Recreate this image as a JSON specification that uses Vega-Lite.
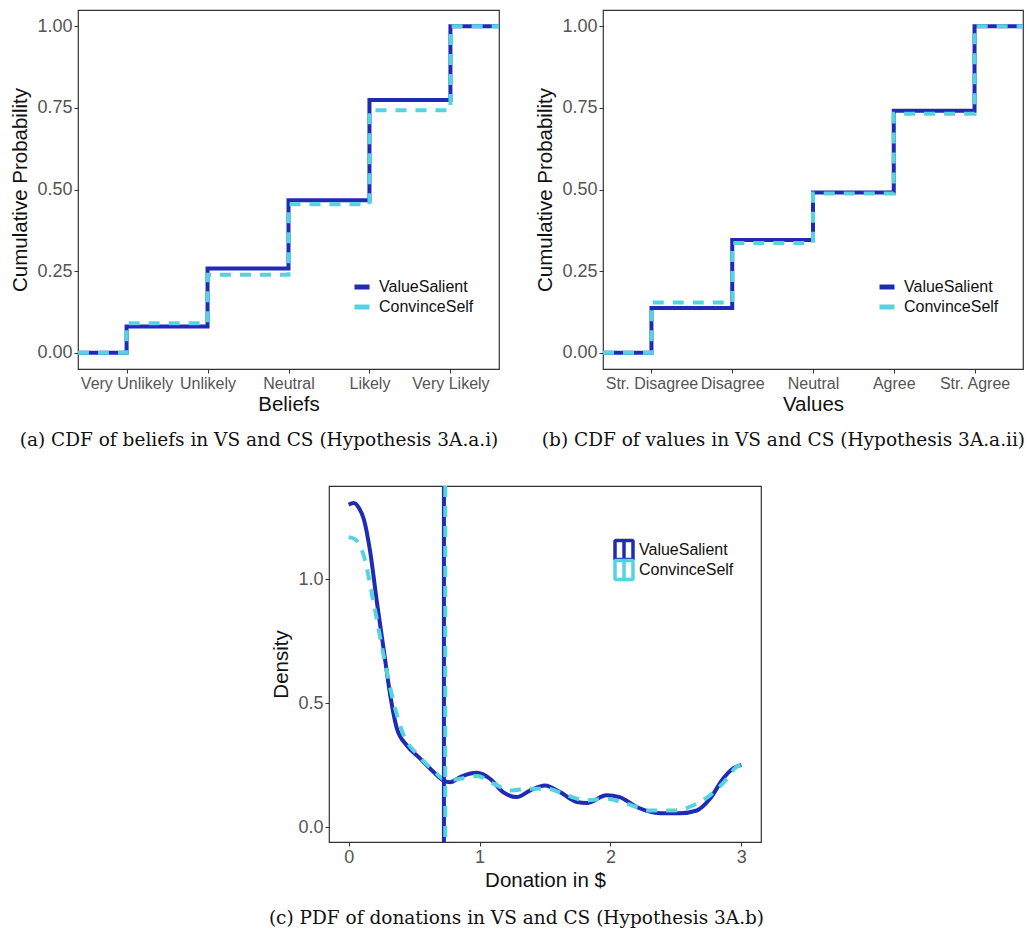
{
  "$schema": "https://vega.github.io/schema/vega-lite/v6.json",
  "background": "white",
  "padding": {"left": 10, "top": 9, "right": 0, "bottom": 0},
  "datasets": {
    "beliefs": [
      {"x": 0.4, "y": 0, "g": "ValueSalient"},
      {"x": 1, "y": 0.08, "g": "ValueSalient"},
      {"x": 2, "y": 0.258, "g": "ValueSalient"},
      {"x": 3, "y": 0.467, "g": "ValueSalient"},
      {"x": 4, "y": 0.774, "g": "ValueSalient"},
      {"x": 5, "y": 1, "g": "ValueSalient"},
      {"x": 5.6, "y": 1, "g": "ValueSalient"},
      {"x": 0.4, "y": 0, "g": "ConvinceSelf"},
      {"x": 1, "y": 0.09, "g": "ConvinceSelf"},
      {"x": 2, "y": 0.239, "g": "ConvinceSelf"},
      {"x": 3, "y": 0.455, "g": "ConvinceSelf"},
      {"x": 4, "y": 0.743, "g": "ConvinceSelf"},
      {"x": 5, "y": 1, "g": "ConvinceSelf"},
      {"x": 5.6, "y": 1, "g": "ConvinceSelf"}
    ],
    "values": [
      {"x": 0.4, "y": 0, "g": "ValueSalient"},
      {"x": 1, "y": 0.137, "g": "ValueSalient"},
      {"x": 2, "y": 0.345, "g": "ValueSalient"},
      {"x": 3, "y": 0.491, "g": "ValueSalient"},
      {"x": 4, "y": 0.741, "g": "ValueSalient"},
      {"x": 5, "y": 1, "g": "ValueSalient"},
      {"x": 5.6, "y": 1, "g": "ValueSalient"},
      {"x": 0.4, "y": 0, "g": "ConvinceSelf"},
      {"x": 1, "y": 0.154, "g": "ConvinceSelf"},
      {"x": 2, "y": 0.336, "g": "ConvinceSelf"},
      {"x": 3, "y": 0.488, "g": "ConvinceSelf"},
      {"x": 4, "y": 0.732, "g": "ConvinceSelf"},
      {"x": 5, "y": 1, "g": "ConvinceSelf"},
      {"x": 5.6, "y": 1, "g": "ConvinceSelf"}
    ],
    "dens": [
      {"x": 0.0, "y": 1.3, "g": "ValueSalient"},
      {"x": 0.04, "y": 1.306, "g": "ValueSalient"},
      {"x": 0.08, "y": 1.285, "g": "ValueSalient"},
      {"x": 0.115, "y": 1.243, "g": "ValueSalient"},
      {"x": 0.165, "y": 1.109, "g": "ValueSalient"},
      {"x": 0.216, "y": 0.907, "g": "ValueSalient"},
      {"x": 0.267, "y": 0.719, "g": "ValueSalient"},
      {"x": 0.318, "y": 0.531, "g": "ValueSalient"},
      {"x": 0.369, "y": 0.397, "g": "ValueSalient"},
      {"x": 0.445, "y": 0.329, "g": "ValueSalient"},
      {"x": 0.547, "y": 0.276, "g": "ValueSalient"},
      {"x": 0.649, "y": 0.222, "g": "ValueSalient"},
      {"x": 0.725, "y": 0.188, "g": "ValueSalient"},
      {"x": 0.776, "y": 0.181, "g": "ValueSalient"},
      {"x": 0.852, "y": 0.202, "g": "ValueSalient"},
      {"x": 0.98, "y": 0.219, "g": "ValueSalient"},
      {"x": 1.08, "y": 0.195, "g": "ValueSalient"},
      {"x": 1.18, "y": 0.141, "g": "ValueSalient"},
      {"x": 1.285, "y": 0.121, "g": "ValueSalient"},
      {"x": 1.387, "y": 0.148, "g": "ValueSalient"},
      {"x": 1.5, "y": 0.168, "g": "ValueSalient"},
      {"x": 1.616, "y": 0.141, "g": "ValueSalient"},
      {"x": 1.743, "y": 0.101, "g": "ValueSalient"},
      {"x": 1.82, "y": 0.097, "g": "ValueSalient"},
      {"x": 1.97, "y": 0.128, "g": "ValueSalient"},
      {"x": 2.07, "y": 0.121, "g": "ValueSalient"},
      {"x": 2.2, "y": 0.081, "g": "ValueSalient"},
      {"x": 2.38, "y": 0.056, "g": "ValueSalient"},
      {"x": 2.53, "y": 0.056, "g": "ValueSalient"},
      {"x": 2.66, "y": 0.067, "g": "ValueSalient"},
      {"x": 2.76, "y": 0.114, "g": "ValueSalient"},
      {"x": 2.86, "y": 0.195, "g": "ValueSalient"},
      {"x": 2.94, "y": 0.238, "g": "ValueSalient"},
      {"x": 3.0, "y": 0.251, "g": "ValueSalient"},
      {"x": 0.0, "y": 1.169, "g": "ConvinceSelf"},
      {"x": 0.05, "y": 1.16, "g": "ConvinceSelf"},
      {"x": 0.115, "y": 1.095, "g": "ConvinceSelf"},
      {"x": 0.19, "y": 0.907, "g": "ConvinceSelf"},
      {"x": 0.267, "y": 0.692, "g": "ConvinceSelf"},
      {"x": 0.343, "y": 0.504, "g": "ConvinceSelf"},
      {"x": 0.42, "y": 0.37, "g": "ConvinceSelf"},
      {"x": 0.52, "y": 0.296, "g": "ConvinceSelf"},
      {"x": 0.649, "y": 0.228, "g": "ConvinceSelf"},
      {"x": 0.75, "y": 0.188, "g": "ConvinceSelf"},
      {"x": 0.852, "y": 0.195, "g": "ConvinceSelf"},
      {"x": 0.98, "y": 0.206, "g": "ConvinceSelf"},
      {"x": 1.107, "y": 0.175, "g": "ConvinceSelf"},
      {"x": 1.234, "y": 0.148, "g": "ConvinceSelf"},
      {"x": 1.387, "y": 0.155, "g": "ConvinceSelf"},
      {"x": 1.514, "y": 0.155, "g": "ConvinceSelf"},
      {"x": 1.667, "y": 0.128, "g": "ConvinceSelf"},
      {"x": 1.82, "y": 0.108, "g": "ConvinceSelf"},
      {"x": 1.97, "y": 0.114, "g": "ConvinceSelf"},
      {"x": 2.125, "y": 0.094, "g": "ConvinceSelf"},
      {"x": 2.3, "y": 0.067, "g": "ConvinceSelf"},
      {"x": 2.48, "y": 0.067, "g": "ConvinceSelf"},
      {"x": 2.63, "y": 0.087, "g": "ConvinceSelf"},
      {"x": 2.76, "y": 0.128, "g": "ConvinceSelf"},
      {"x": 2.89, "y": 0.195, "g": "ConvinceSelf"},
      {"x": 2.96, "y": 0.242, "g": "ConvinceSelf"},
      {"x": 3.0, "y": 0.25, "g": "ConvinceSelf"}
    ],
    "means": [
      {"m": 0.728, "g": "ValueSalient"},
      {"m": 0.738, "g": "ConvinceSelf"}
    ],
    "blank": [{"k": 0}]
  },
  "config": {
    "view": {"stroke": "#333333", "strokeWidth": 1.2},
    "axis": {
      "grid": false,
      "domain": false,
      "tickColor": "#333333",
      "tickSize": 4,
      "tickWidth": 1,
      "labelFont": "Liberation Sans",
      "labelColor": "#555555",
      "titleFont": "Liberation Sans",
      "titleFontWeight": "normal",
      "titleColor": "#111111",
      "titleFontSize": 20.5
    },
    "title": {
      "font": "DejaVu Serif",
      "fontSize": 18.5,
      "fontWeight": "normal",
      "color": "#111111",
      "orient": "bottom",
      "anchor": "middle",
      "frame": "bounds",
      "offset": 16
    },
    "legend": {
      "title": null,
      "orient": "none",
      "padding": 0,
      "labelFont": "Liberation Sans",
      "labelFontSize": 16,
      "labelColor": "#111111"
    }
  },
  "resolve": {"scale": {"color": "independent"}, "legend": {"color": "independent"}},
  "vconcat": [
    {
      "resolve": {"scale": {"color": "independent"}, "legend": {"color": "independent"}},
      "hconcat": [
        {
          "width": 421,
          "height": 359,
          "title": {"text": "(a) CDF of beliefs in VS and CS (Hypothesis 3A.a.i)"},
          "data": {"name": "beliefs"},
          "encoding": {
            "x": {
              "field": "x", "type": "quantitative", "title": "Beliefs",
              "scale": {"domain": [0.4, 5.6], "nice": false, "zero": false},
              "axis": {
                "values": [1, 2, 3, 4, 5],
                "labelFontSize": 16,
                "labelPadding": 2,
                "titlePadding": 3,
                "labelExpr": "datum.value == 1 ? 'Very Unlikely' : datum.value == 2 ? 'Unlikely' : datum.value == 3 ? 'Neutral' : datum.value == 4 ? 'Likely' : 'Very Likely'"
              }
            },
            "y": {
              "field": "y", "type": "quantitative", "title": "Cumulative Probability",
              "scale": {"domain": [-0.05, 1.05], "nice": false, "zero": false},
              "axis": {"values": [0, 0.25, 0.5, 0.75, 1], "format": ".2f", "labelFontSize": 18, "labelPadding": 2, "titlePadding": 6}
            },
            "color": {
              "field": "g", "type": "nominal",
              "scale": {"domain": ["ValueSalient", "ConvinceSelf"], "range": ["#1f2bb5", "#55d3e0"]},
              "legend": {"legendX": 274, "legendY": 267, "symbolType": "stroke", "symbolSize": 225, "symbolStrokeWidth": 5, "labelOffset": 7, "rowPadding": 0}
            }
          },
          "layer": [
            {"transform": [{"filter": "datum.g == 'ValueSalient'"}], "mark": {"type": "line", "interpolate": "step-after", "strokeWidth": 4}},
            {"transform": [{"filter": "datum.g == 'ConvinceSelf'"}], "mark": {"type": "line", "interpolate": "step-after", "strokeWidth": 4, "strokeDash": [11, 9]}}
          ]
        },
        {
          "width": 420,
          "height": 359,
          "title": {"text": "(b) CDF of values in VS and CS (Hypothesis 3A.a.ii)"},
          "data": {"name": "values"},
          "encoding": {
            "x": {
              "field": "x", "type": "quantitative", "title": "Values",
              "scale": {"domain": [0.4, 5.6], "nice": false, "zero": false},
              "axis": {
                "values": [1, 2, 3, 4, 5],
                "labelFontSize": 16,
                "labelPadding": 2,
                "titlePadding": 3,
                "labelExpr": "datum.value == 1 ? 'Str. Disagree' : datum.value == 2 ? 'Disagree' : datum.value == 3 ? 'Neutral' : datum.value == 4 ? 'Agree' : 'Str. Agree'"
              }
            },
            "y": {
              "field": "y", "type": "quantitative", "title": "Cumulative Probability",
              "scale": {"domain": [-0.05, 1.05], "nice": false, "zero": false},
              "axis": {"values": [0, 0.25, 0.5, 0.75, 1], "format": ".2f", "labelFontSize": 18, "labelPadding": 2, "titlePadding": 6}
            },
            "color": {
              "field": "g", "type": "nominal",
              "scale": {"domain": ["ValueSalient", "ConvinceSelf"], "range": ["#1f2bb5", "#55d3e0"]},
              "legend": {"legendX": 274, "legendY": 267, "symbolType": "stroke", "symbolSize": 225, "symbolStrokeWidth": 5, "labelOffset": 7, "rowPadding": 0}
            }
          },
          "layer": [
            {"transform": [{"filter": "datum.g == 'ValueSalient'"}], "mark": {"type": "line", "interpolate": "step-after", "strokeWidth": 4}},
            {"transform": [{"filter": "datum.g == 'ConvinceSelf'"}], "mark": {"type": "line", "interpolate": "step-after", "strokeWidth": 4, "strokeDash": [11, 9]}}
          ]
        }
      ],
      "spacing": 27
    },
    {
      "resolve": {"scale": {"color": "independent"}, "legend": {"color": "independent"}},
      "hconcat": [
        {
          "width": 170,
          "height": 10,
          "view": {"stroke": null},
          "data": {"name": "blank"},
          "mark": {"type": "point", "opacity": 0}
        },
        {
          "width": 432,
          "height": 356,
          "title": {"text": "(c) PDF of donations in VS and CS (Hypothesis 3A.b)", "offset": 18},
          "encoding": {
            "color": {
              "field": "g", "type": "nominal",
              "scale": {"domain": ["ValueSalient", "ConvinceSelf"], "range": ["#1f2bb5", "#55d3e0"]},
              "legend": {
                "legendX": 287, "legendY": 56,
                "symbolType": "M-2,-2.1H2V2.1H-2Z M0,-2.1V2.1",
                "symbolSize": 81, "symbolStrokeWidth": 3.5, "symbolFillColor": "transparent",
                "labelOffset": 7, "rowPadding": -4,
                "encode": {"symbols": {"update": {"fill": {"value": "transparent"}, "strokeJoin": {"value": "bevel"}}}}
              }
            }
          },
          "layer": [
            {
              "data": {"name": "dens"},
              "transform": [{"filter": "datum.g == 'ValueSalient'"}],
              "mark": {"type": "line", "interpolate": "monotone", "strokeWidth": 4},
              "encoding": {
                "x": {
                  "field": "x", "type": "quantitative", "title": "Donation in $",
                  "scale": {"domain": [-0.15, 3.15], "nice": false, "zero": false},
                  "axis": {"values": [0, 1, 2, 3], "format": "d", "labelFontSize": 18, "labelPadding": 2, "titlePadding": 4}
                },
                "y": {
                  "field": "y", "type": "quantitative", "title": "Density",
                  "scale": {"domain": [-0.06, 1.375], "nice": false, "zero": false},
                  "axis": {"values": [0, 0.5, 1], "format": ".1f", "labelFontSize": 18, "labelPadding": 2, "titlePadding": 6}
                }
              }
            },
            {
              "data": {"name": "dens"},
              "transform": [{"filter": "datum.g == 'ConvinceSelf'"}],
              "mark": {"type": "line", "interpolate": "monotone", "strokeWidth": 4, "strokeDash": [11, 9]},
              "encoding": {
                "x": {"field": "x", "type": "quantitative"},
                "y": {"field": "y", "type": "quantitative"}
              }
            },
            {
              "data": {"name": "means"},
              "transform": [{"filter": "datum.g == 'ValueSalient'"}],
              "mark": {"type": "rule", "strokeWidth": 4},
              "encoding": {"x": {"field": "m", "type": "quantitative"}}
            },
            {
              "data": {"name": "means"},
              "transform": [{"filter": "datum.g == 'ConvinceSelf'"}],
              "mark": {"type": "rule", "strokeWidth": 4, "strokeDash": [11, 9]},
              "encoding": {"x": {"field": "m", "type": "quantitative"}}
            }
          ]
        }
      ],
      "spacing": 20
    }
  ],
  "spacing": 33
}
